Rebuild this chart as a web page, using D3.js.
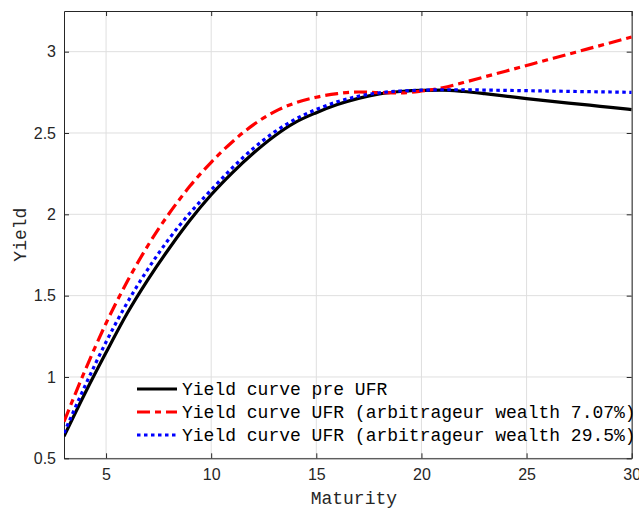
<!DOCTYPE html>
<html>
<head>
<meta charset="utf-8">
<script src="https://cdn.jsdelivr.net/npm/d3@7"></script>
<style>
	body { margin: 0; background: #fff; }
	svg { display: block; }
</style>
</head>
<body>
<div id="chart"></div>
<script>
// maturities (years)
let maturity = [3,4,5,6,7,8,9,10,11,12,13,14,15,16,17,18,19,20,21,22,23,24,25,26,27,28,29,30];

let preUFR = [0.635,0.90,1.15,1.39,1.60,1.79,1.965,2.12,2.255,2.375,2.48,2.565,2.625,2.675,2.713,2.74,2.755,2.762,2.763,2.755,2.742,2.727,2.711,2.697,2.684,2.671,2.657,2.644];
let ufrLow = [0.725,1.04,1.33,1.585,1.81,2.005,2.175,2.32,2.445,2.55,2.63,2.685,2.72,2.742,2.752,2.748,2.747,2.758,2.778,2.81,2.845,2.88,2.915,2.95,2.985,3.02,3.055,3.09];
let ufrHigh = [0.655,0.945,1.215,1.455,1.665,1.85,2.01,2.15,2.285,2.405,2.505,2.585,2.645,2.692,2.726,2.747,2.758,2.763,2.766,2.766,2.764,2.762,2.76,2.758,2.756,2.754,2.752,2.75];

let xTicks = [5,10,15,20,25,30];
let yTicks = [0.5,1,1.5,2,2.5,3];

let seriesNames = [
	"Yield curve pre UFR",
	"Yield curve UFR (arbitrageur wealth 7.07%)",
	"Yield curve UFR (arbitrageur wealth 29.5%)"
];

let W = 639, H = 510;
let m = {left: 64, right: 7.3, top: 11, bottom: 51.7};
let iw = W - m.left - m.right, ih = H - m.top - m.bottom;
let axisCol = "#262626", gridCol = "#dfdfdf";

let svg = d3.select("#chart").append("svg")
	.attr("width", W)
	.attr("height", H);

let x = d3.scaleLinear().domain([3, 30]).range([m.left, m.left + iw]);
let y = d3.scaleLinear().domain([0.5, 3.25]).range([m.top + ih, m.top]);

// grid
svg.append("g").selectAll("line.gx")
	.data(xTicks).enter().append("line")
	.attr("x1", d => x(d)).attr("x2", d => x(d))
	.attr("y1", m.top).attr("y2", m.top + ih)
	.attr("stroke", gridCol).attr("stroke-width", 1);
svg.append("g").selectAll("line.gy")
	.data(yTicks).enter().append("line")
	.attr("x1", m.left).attr("x2", m.left + iw)
	.attr("y1", d => y(d)).attr("y2", d => y(d))
	.attr("stroke", gridCol).attr("stroke-width", 1);

// axes (inward ticks, box on)
let tickLen = 5;
let xAxisB = d3.axisBottom(x).tickValues(xTicks).tickSizeInner(-tickLen).tickSizeOuter(0).tickPadding(10);
let xAxisT = d3.axisTop(x).tickValues(xTicks).tickSizeInner(-tickLen).tickSizeOuter(0).tickFormat("");
let yAxisL = d3.axisLeft(y).tickValues(yTicks).tickSizeInner(-tickLen).tickSizeOuter(0).tickPadding(8).tickFormat(d3.format("~g"));
let yAxisR = d3.axisRight(y).tickValues(yTicks).tickSizeInner(-tickLen).tickSizeOuter(0).tickFormat("");

function styleAxis(g) {
	g.select(".domain").attr("stroke", axisCol).attr("stroke-width", 1);
	g.selectAll(".tick line").attr("stroke", axisCol);
	g.selectAll(".tick text")
		.attr("fill", axisCol)
		.style("font-family", "'Liberation Sans', Arial, sans-serif")
		.style("font-size", "16px");
}

svg.append("g").attr("transform", `translate(0,${m.top + ih})`).call(xAxisB).call(styleAxis);
svg.append("g").attr("transform", `translate(0,${m.top})`).call(xAxisT).call(styleAxis);
svg.append("g").attr("transform", `translate(${m.left},0)`).call(yAxisL).call(styleAxis);
svg.append("g").attr("transform", `translate(${m.left + iw},0)`).call(yAxisR).call(styleAxis);

// axis labels
svg.append("text")
	.attr("x", m.left + iw / 2 + 6)
	.attr("y", 504)
	.attr("text-anchor", "middle")
	.attr("fill", axisCol)
	.style("font-family", "'Liberation Mono', 'Courier New', monospace")
	.style("font-size", "18px")
	.text("Maturity");

svg.append("text")
	.attr("transform", `translate(26,${m.top + ih / 2}) rotate(-90)`)
	.attr("text-anchor", "middle")
	.attr("fill", axisCol)
	.style("font-family", "'Liberation Mono', 'Courier New', monospace")
	.style("font-size", "18px")
	.text("Yield");

// lines
svg.append("clipPath").attr("id", "clip")
	.append("rect").attr("x", m.left).attr("y", m.top).attr("width", iw).attr("height", ih);

let styles = [
	{color: "#000000", dash: null},
	{color: "#ff0000", dash: "13,5,6,5"},
	{color: "#0000ff", dash: "3.5,3.5"}
];
let series = [preUFR, ufrLow, ufrHigh];

let line = d3.line()
	.x(d => x(d[0]))
	.y(d => y(d[1]))
	.curve(d3.curveMonotoneX);

let plot = svg.append("g").attr("clip-path", "url(#clip)");
series.forEach((vals, i) => {
	plot.append("path")
		.datum(maturity.map((mm, j) => [mm, vals[j]]))
		.attr("fill", "none")
		.attr("stroke", styles[i].color)
		.attr("stroke-width", 3.2)
		.attr("stroke-dasharray", styles[i].dash)
		.attr("d", line);
});

// legend (no box)
let legY = [389, 412, 435];
let leg = svg.append("g");
seriesNames.forEach((name, i) => {
	leg.append("line")
		.attr("x1", 137).attr("x2", 177)
		.attr("y1", legY[i]).attr("y2", legY[i])
		.attr("stroke", styles[i].color)
		.attr("stroke-width", 3.2)
		.attr("stroke-dasharray", styles[i].dash);
	leg.append("text")
		.attr("x", 182)
		.attr("y", legY[i])
		.attr("dy", "0.35em")
		.attr("fill", "#000")
		.style("font-family", "'Liberation Mono', 'Courier New', monospace")
		.style("font-size", "18px")
		.text(name);
});
</script>
</body>
</html>
